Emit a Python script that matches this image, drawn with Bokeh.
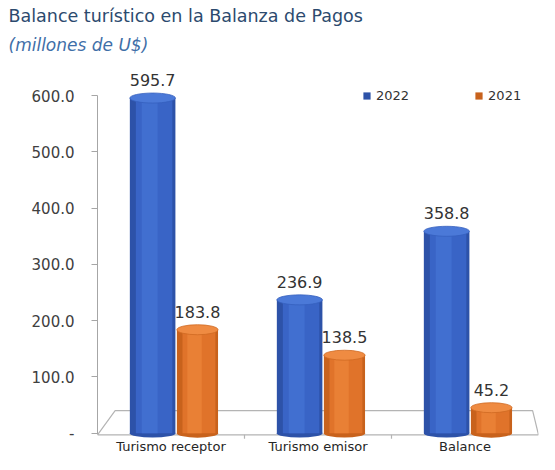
from bokeh.plotting import figure
from bokeh.models import (ColumnDataSource, FactorRange, Range1d, FixedTicker,
                          Title, Legend, LegendItem)
from bokeh.transform import dodge
from bokeh.core.properties import value
from bokeh.embed import file_html
from bokeh.resources import INLINE

# ---- data ----
categories = ["Turismo receptor", "Turismo emisor", "Balance"]
v2022 = [595.7, 236.9, 358.8]
v2021 = [183.8, 138.5, 45.2]
series_names = ["2022", "2021"]
y_ticks = [0, 100, 200, 300, 400, 500, 600]
y_tick_labels = ["-", "100.0", "200.0", "300.0", "400.0", "500.0", "600.0"]

FONT = "DejaVu Sans"
Y_MIN, Y_MAX = -38, 666
src = ColumnDataSource(dict(
    cat=categories,
    v22=v2022, v21=v2021,
    l22=[f"{v:.1f}" for v in v2022],
    l21=[f"{v:.1f}" for v in v2021],
    zero=[0] * len(categories),
    base=[Y_MIN] * len(categories),
))

p = figure(x_range=FactorRange(*categories), y_range=Range1d(Y_MIN, Y_MAX),
           width=539, height=454, output_backend="svg", toolbar_location=None,
           x_axis_location=None,
           min_border_left=97, min_border_right=1, min_border_top=2,
           min_border_bottom=0)
p.x_range.range_padding = 0
p.xgrid.visible = False
p.ygrid.visible = False
p.outline_line_color = None
p.background_fill_color = "white"

# titles (first added sits closest to the plot)
p.add_layout(Title(text="(millones de U$)", text_font=FONT, text_font_style="italic",
                   text_font_size="17px", text_color="#3F6FA8", offset=-89,
                   standoff=7), "above")
p.add_layout(Title(text="Balance turístico en la Balanza de Pagos", text_font=FONT,
                   text_font_style="normal", text_font_size="17.5px", text_color="#2C4A6E",
                   offset=-89, standoff=7), "above")

p.yaxis.ticker = FixedTicker(ticks=y_ticks)
p.yaxis.major_label_overrides = {t: l for t, l in zip(y_ticks, y_tick_labels)}
p.yaxis.bounds = (-3, 600)
p.yaxis.axis_line_color = "#A6A6A6"
p.yaxis.major_tick_line_color = "#A6A6A6"
p.yaxis.minor_tick_line_color = None
p.yaxis.major_tick_in = 0
p.yaxis.major_tick_out = 6
p.yaxis.major_label_standoff = 17
p.yaxis.major_label_text_font = FONT
p.yaxis.major_label_text_font_size = "15px"
p.yaxis.major_label_text_color = "#404040"

# 3-D style floor with category separators
p.patch(x=[0, 0.12, 2.96, 3.0], y=[-3, 40, 40, -3], fill_color="white",
        line_color="#B4B4B4", line_width=1.2)
p.segment(x0=[1, 2], y0=[-3, -3], x1=[1, 2], y1=[-10, -10],
          line_color="#B4B4B4", line_width=1.2)

# category labels (x axis)
p.text(x="cat", y="base", text="cat", source=src, text_align="center",
       text_baseline="bottom", y_offset=-1, text_font=value(FONT),
       text_font_size="13px", text_color="#262626")

styles = [
    ("v22", "l22", -0.125, 0.31, dict(base="#2D52A8", mid="#3964C6", hi="#416FD0",
                                      top="#4B79D8", edge="#3560BE")),
    ("v21", "l21", 0.18, 0.28, dict(base="#C8621C", mid="#E0732A", hi="#E98035",
                                    top="#EF8B42", edge="#CF6A22")),
]
legend_renderers = []
for field, lab, off, W, c in styles:
    x = dodge("cat", off, range=p.x_range)
    p.ellipse(x=x, y="zero", width=W, height=9, height_units="screen",
              fill_color=c["base"], line_color=None, source=src)
    r = p.vbar(x=x, top=field, bottom=0, width=W, fill_color=c["base"],
               line_color=None, source=src)
    legend_renderers.append(r)
    p.vbar(x=dodge("cat", off + 0.01, range=p.x_range), top=field, bottom=0,
           width=W * 0.8, fill_color=c["mid"], line_color=None, source=src)
    p.vbar(x=dodge("cat", off - 0.02, range=p.x_range), top=field, bottom=0,
           width=W * 0.35, fill_color=c["hi"], line_color=None, source=src)
    p.ellipse(x=x, y=field, width=W, height=10, height_units="screen",
              fill_color=c["top"], line_color=c["edge"], line_width=0.8, source=src)
    p.text(x=x, y=field, text=lab, source=src, text_align="center",
           text_baseline="bottom", y_offset=-12, text_font=value(FONT),
           text_font_size="16px", text_color="#333333")

legend = Legend(items=[LegendItem(label=series_names[0], renderers=[legend_renderers[0]]),
                       LegendItem(label=series_names[1], renderers=[legend_renderers[1]])],
                orientation="horizontal", location=(265, 351),
                glyph_width=9, glyph_height=9, spacing=65, padding=0, margin=0,
                label_text_font=FONT, label_text_font_size="13px",
                label_text_color="#333333", label_standoff=5,
                background_fill_alpha=0, border_line_alpha=0)
p.add_layout(legend)

open("out.html", "w").write(file_html(p, INLINE))
